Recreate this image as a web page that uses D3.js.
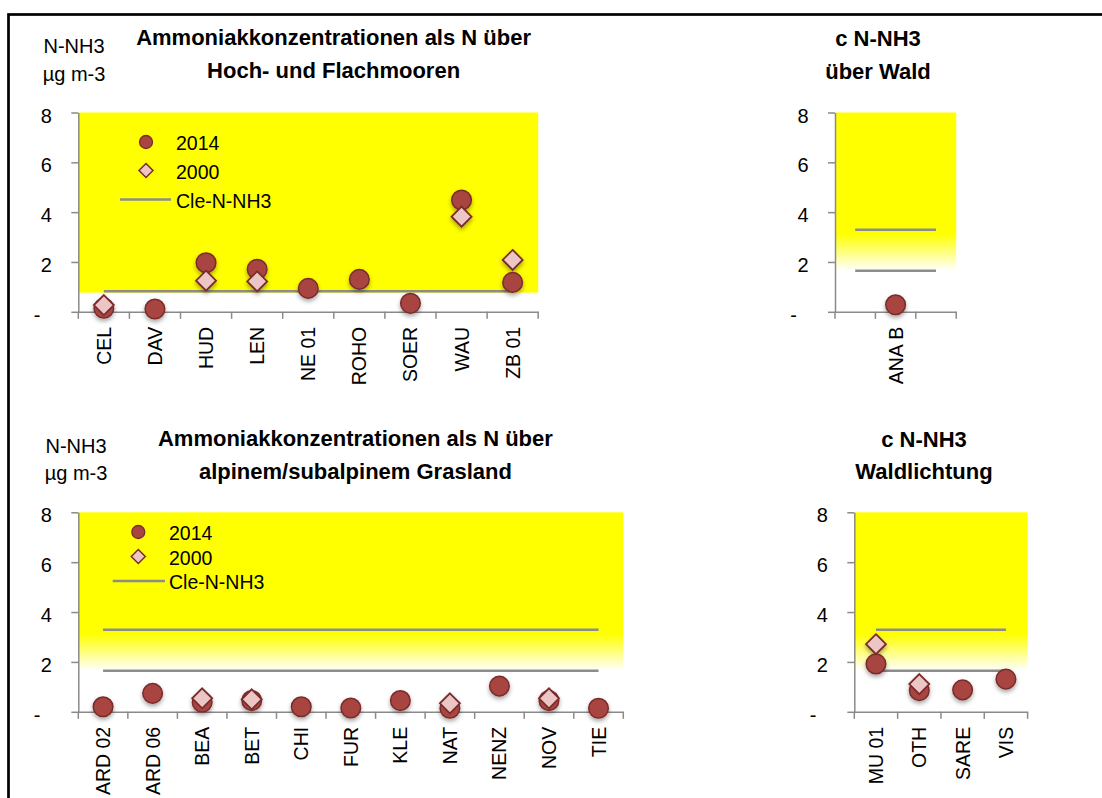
<!DOCTYPE html>
<html>
<head>
<meta charset="utf-8">
<script src="https://cdn.jsdelivr.net/npm/d3@7"></script>
<style>
  html, body { margin: 0; padding: 0; background: #fff; }
  svg { display: block; }
</style>
</head>
<body>
<svg id="chart" width="1102" height="798"></svg>
<script>
// Ammonia concentrations (as N, µg m-3) at the monitoring sites, 2014 vs 2000,
// with the critical level (Cle) for N-NH3 of each ecosystem type.

// Hoch- und Flachmoore
const moorSites = ["CEL", "DAV", "HUD", "LEN", "NE 01", "ROHO", "SOER", "WAU", "ZB 01"];
const moor2014  = [0.14, 0.11, 1.97, 1.71, 0.94, 1.30, 0.34, 4.49, 1.18];
const moor2000  = [0.27, null, 1.25, 1.22, null, null, null, 3.82, 2.08];
const moorCle   = [0.82, 0.82, 0.82, 0.82, 0.82, 0.82, 0.82, 0.82, 0.82];

// Wald
const forestSites = ["", "ANA B", ""];
const forest2014  = [null, 0.28, null];
const forest2000  = [null, null, null];
const forestCleHigh = [3.29, 3.29, 3.29];
const forestCleLow  = [1.65, 1.65, 1.65];

// alpines/subalpines Grasland
const grassSites = ["ARD 02", "ARD 06", "BEA", "BET", "CHI", "FUR", "KLE", "NAT", "NENZ", "NOV", "TIE"];
const grass2014  = [0.20, 0.74, 0.38, 0.45, 0.20, 0.15, 0.45, 0.14, 1.03, 0.45, 0.14];
const grass2000  = [null, null, 0.54, 0.50, null, null, null, 0.34, null, 0.54, null];
const grassCleHigh = [3.29, 3.29, 3.29, 3.29, 3.29, 3.29, 3.29, 3.29, 3.29, 3.29, 3.29];
const grassCleLow  = [1.65, 1.65, 1.65, 1.65, 1.65, 1.65, 1.65, 1.65, 1.65, 1.65, 1.65];

// Waldlichtung
const clearingSites = ["MU 01", "OTH", "SARE", "VIS"];
const clearing2014  = [1.92, 0.85, 0.88, 1.31];
const clearing2000  = [2.71, 1.11, null, null];
const clearingCleHigh = [3.29, 3.29, 3.29, 3.29];
const clearingCleLow  = [1.65, 1.65, 1.65, 1.65];

const yTicks = [0, 2, 4, 6, 8];
const legendLabels = ["2014", "2000", "Cle-N-NH3"];
const unitLines = ["N-NH3", "µg m-3"];

// Band of the yellow area: solid above, fading to white between these levels
const fadeTop = 3.13;
const fadeBottom = 1.65;
const moorYellowBottom = 0.77;

const FONT = "'Liberation Sans', Arial, Helvetica, sans-serif";
const AXIS_GREY = "#8a8a8a";
const CLE_GREY = "#8c8c8c";
const YELLOW = "#ffff00";
const DOT_FILL = "#a94541";
const DOT_STROKE = "#7a2c2a";
const DIA_FILL = "#ebc6c5";

const svg = d3.select("#chart");
const defs = svg.append("defs");

const shadow = defs.append("filter").attr("id", "mshadow")
  .attr("x", "-60%").attr("y", "-60%").attr("width", "220%").attr("height", "220%");
shadow.append("feDropShadow").attr("dx", 0).attr("dy", 2.5).attr("stdDeviation", 2)
  .attr("flood-color", "#000").attr("flood-opacity", 0.35);

const fade = defs.append("linearGradient").attr("id", "fade")
  .attr("x1", 0).attr("y1", 0).attr("x2", 0).attr("y2", 1);
fade.append("stop").attr("offset", (8 - fadeTop) / (8 - fadeBottom)).attr("stop-color", YELLOW);
fade.append("stop").attr("offset", 1).attr("stop-color", "#ffffff");

// outer frame
svg.append("rect").attr("x", 8.5).attr("y", 14.5).attr("width", 1200).attr("height", 900)
  .attr("fill", "none").attr("stroke", "#000").attr("stroke-width", 2.7);

function diamondPath(h) {
  return `M0,${-h}L${h},0L0,${h}L${-h},0Z`;
}

const panels = [
  {
    sites: moorSites, s2014: moor2014, s2000: moor2000, cle: [moorCle],
    x0: 78.3, x1: 538.2, yTop: 112.5, yBot: 311.8,
    fadeFill: false,
    title: ["Ammoniakkonzentrationen als N über", "Hoch- und Flachmooren"],
    titleX: 333.6, titleY: [37.5, 70.8],
    unit: { x: 74, y: [45.5, 74] },
    legend: { mx: 146, lx0: 120, lx1: 171, tx: 176, rows: [142, 170.5, 199.5] }
  },
  {
    sites: forestSites, s2014: forest2014, s2000: forest2000, cle: [forestCleHigh, forestCleLow],
    x0: 835, x1: 956.2, yTop: 112.5, yBot: 311.8,
    fadeFill: true,
    title: ["c N-NH3", "über Wald"],
    titleX: 878, titleY: [38.5, 71]
  },
  {
    sites: grassSites, s2014: grass2014, s2000: grass2000, cle: [grassCleHigh, grassCleLow],
    x0: 78.3, x1: 623.3, yTop: 512.3, yBot: 711.8,
    fadeFill: true,
    title: ["Ammoniakkonzentrationen als N über", "alpinem/subalpinem Grasland"],
    titleX: 355.4, titleY: [438.5, 471],
    unit: { x: 76, y: [446, 473] },
    legend: { mx: 138.3, lx0: 112.7, lx1: 165, tx: 169, rows: [532, 556.5, 581] }
  },
  {
    sites: clearingSites, s2014: clearing2014, s2000: clearing2000, cle: [clearingCleHigh, clearingCleLow],
    x0: 854.3, x1: 1027.6, yTop: 512.3, yBot: 711.8,
    fadeFill: true,
    title: ["c N-NH3", "Waldlichtung"],
    titleX: 924, titleY: [439, 471]
  }
];

panels.forEach(drawPanel);

function drawPanel(p) {
  const g = svg.append("g");
  const n = p.sites.length;
  const x = d3.scaleBand().domain(d3.range(n)).range([p.x0, p.x1]).padding(0);
  const y = d3.scaleLinear().domain([0, 8]).range([p.yBot, p.yTop]);
  const cx = i => x(i) + x.bandwidth() / 2;

  // yellow area
  if (p.fadeFill) {
    g.append("rect")
      .attr("x", p.x0).attr("y", y(8))
      .attr("width", p.x1 - p.x0).attr("height", y(fadeBottom) - y(8))
      .attr("fill", "url(#fade)");
  } else {
    g.append("rect")
      .attr("x", p.x0).attr("y", y(8))
      .attr("width", p.x1 - p.x0).attr("height", y(moorYellowBottom) - y(8))
      .attr("fill", YELLOW);
  }

  // y axis
  const yAxis = d3.axisLeft(y).tickValues(yTicks).tickSize(7).tickSizeOuter(0)
    .tickPadding(19.5).tickFormat(d => d === 0 ? "-" : d3.format("d")(d));
  const ya = g.append("g").attr("transform", `translate(${p.x0},0)`).call(yAxis);
  ya.selectAll("path, line").attr("stroke", AXIS_GREY).attr("stroke-width", 1.5);
  ya.selectAll("text").attr("fill", "#000").attr("font-family", FONT)
    .attr("font-size", 20).attr("dy", "0.48em");
  ya.selectAll(".tick").filter(d => d === 0).select("text").attr("x", -38);

  // x axis: labels at band centres, ticks at band edges
  const xAxis = d3.axisBottom(x).tickSize(0).tickSizeOuter(0).tickFormat(i => p.sites[i]);
  const xa = g.append("g").attr("transform", `translate(0,${p.yBot})`).call(xAxis);
  xa.select(".domain").attr("stroke", AXIS_GREY).attr("stroke-width", 1.5);
  xa.selectAll("text")
    .attr("font-family", FONT).attr("font-size", 19.5).attr("fill", "#000")
    .attr("transform", "rotate(-90)")
    .attr("x", -15).attr("y", 0).attr("dy", "0.36em")
    .attr("text-anchor", "end");
  const edges = d3.range(n).map(i => x(i)).concat([x.range()[1]]);
  g.append("g").selectAll("line").data(edges).join("line")
    .attr("x1", d => d).attr("x2", d => d)
    .attr("y1", p.yBot).attr("y2", p.yBot + 7)
    .attr("stroke", AXIS_GREY).attr("stroke-width", 1.5);

  // critical level lines
  const line = d3.line().x((d, i) => cx(i)).y(d => y(d));
  p.cle.forEach(series => {
    g.append("path").datum(series).attr("d", line)
      .attr("fill", "none").attr("stroke", CLE_GREY).attr("stroke-width", 2.5);
  });

  // 2014 dots, then 2000 diamonds on top
  const marks = g.append("g").attr("filter", "url(#mshadow)");
  marks.selectAll("circle")
    .data(p.s2014.map((v, i) => ({ v, i })).filter(d => d.v != null))
    .join("circle")
    .attr("cx", d => cx(d.i)).attr("cy", d => y(d.v)).attr("r", 9.8)
    .attr("fill", DOT_FILL).attr("stroke", DOT_STROKE).attr("stroke-width", 1.5);
  marks.selectAll("path.dia")
    .data(p.s2000.map((v, i) => ({ v, i })).filter(d => d.v != null))
    .join("path").attr("class", "dia")
    .attr("d", diamondPath(10))
    .attr("transform", d => `translate(${cx(d.i)},${y(d.v)})`)
    .attr("fill", DIA_FILL).attr("stroke", DOT_STROKE).attr("stroke-width", 1.8);

  // title
  g.append("g").selectAll("text").data(p.title).join("text")
    .attr("x", p.titleX).attr("y", (d, i) => p.titleY[i])
    .attr("dominant-baseline", "central").attr("text-anchor", "middle")
    .attr("font-family", FONT).attr("font-weight", "bold").attr("font-size", 22)
    .attr("fill", "#000").text(d => d);

  // unit
  if (p.unit) {
    g.append("g").selectAll("text").data(unitLines).join("text")
      .attr("x", p.unit.x).attr("y", (d, i) => p.unit.y[i])
      .attr("dominant-baseline", "central").attr("text-anchor", "middle")
      .attr("font-family", FONT).attr("font-size", 20)
      .attr("fill", "#000").text(d => d);
  }

  // legend
  if (p.legend) {
    const L = p.legend;
    const lg = g.append("g");
    lg.append("circle").attr("cx", L.mx).attr("cy", L.rows[0]).attr("r", 6.5)
      .attr("fill", DOT_FILL).attr("stroke", DOT_STROKE).attr("stroke-width", 1.3);
    lg.append("path").attr("d", diamondPath(7))
      .attr("transform", `translate(${L.mx},${L.rows[1]})`)
      .attr("fill", DIA_FILL).attr("stroke", DOT_STROKE).attr("stroke-width", 1.5);
    lg.append("line").attr("x1", L.lx0).attr("x2", L.lx1)
      .attr("y1", L.rows[2]).attr("y2", L.rows[2])
      .attr("stroke", CLE_GREY).attr("stroke-width", 2.5);
    lg.selectAll("text").data(legendLabels).join("text")
      .attr("x", L.tx).attr("y", (d, i) => L.rows[i] + 1)
      .attr("dominant-baseline", "central")
      .attr("font-family", FONT).attr("font-size", 19.5)
      .attr("fill", "#000").text(d => d);
  }
}
</script>
</body>
</html>
